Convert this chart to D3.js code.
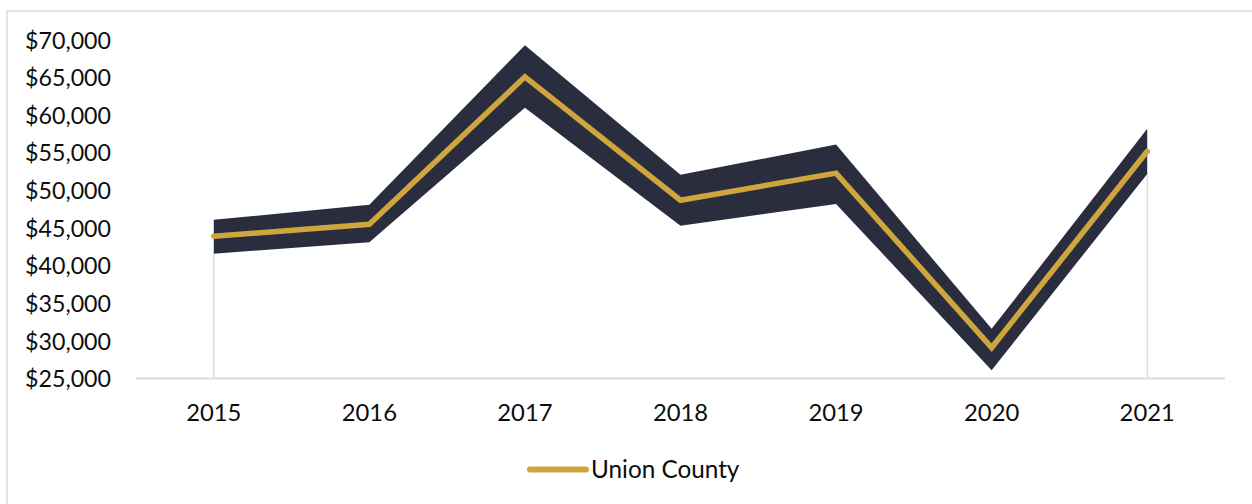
<!DOCTYPE html>
<html>
<head>
<meta charset="utf-8">
<script src="https://cdn.jsdelivr.net/npm/d3@7"></script>
<style>
  html, body { margin: 0; padding: 0; background: #ffffff; }
  svg { display: block; }
  text { font-family: Lato, "Open Sans", sans-serif; fill: #0d0d0d; }
</style>
</head>
<body>
<svg id="chart" width="1252" height="504"></svg>
<script>
// Median household income, Union County, with its range band
const years = ["2015", "2016", "2017", "2018", "2019", "2020", "2021"];
const income = [43900, 45500, 65100, 48700, 52300, 29100, 55200];
const rangeLow = [41600, 43100, 61000, 45300, 48200, 26100, 52200];
const rangeHigh = [46100, 48100, 69300, 52100, 56100, 31600, 58200];
const yTicks = [25000, 30000, 35000, 40000, 45000, 50000, 55000, 60000, 65000, 70000];
const seriesName = "Union County";

const W = 1252, H = 504;
const plot = { left: 136, right: 1225, top: 40, bottom: 378.5 };

const svg = d3.select("#chart");

// outer frame
svg.append("rect")
  .attr("x", 7).attr("y", 11)
  .attr("width", W + 10).attr("height", H + 10)
  .attr("fill", "none")
  .attr("stroke", "#d9dce9")
  .attr("stroke-width", 1.5);

const x = d3.scaleBand().domain(years).range([plot.left, plot.right]);
const cx = d => x(d) + x.bandwidth() / 2;
const y = d3.scaleLinear().domain([25000, 70000]).range([plot.bottom, plot.top]);

const rows = years.map((yr, i) => ({ yr, v: income[i], lo: rangeLow[i], hi: rangeHigh[i] }));

// outline of the hidden lower stack at both ends
const first = rows[0], last = rows[rows.length - 1];
svg.append("g").selectAll("line")
  .data([first, last])
  .join("line")
  .attr("x1", d => cx(d.yr)).attr("x2", d => cx(d.yr))
  .attr("y1", d => y(d.lo)).attr("y2", y(25000))
  .attr("stroke", "#d0d0d4")
  .attr("stroke-width", 1);

// range band
const band = d3.area()
  .x(d => cx(d.yr))
  .y0(d => y(d.lo))
  .y1(d => y(d.hi));
svg.append("path")
  .datum(rows)
  .attr("d", band)
  .attr("fill", "#292d3e");

// x axis line
svg.append("line")
  .attr("x1", plot.left).attr("x2", plot.right)
  .attr("y1", y(25000)).attr("y2", y(25000))
  .attr("stroke", "#d9dce6")
  .attr("stroke-width", 2);

// y axis labels
const yAxis = d3.axisLeft(y)
  .tickValues(yTicks)
  .tickSize(0)
  .tickPadding(0)
  .tickFormat(d => "$" + d3.format(",")(d));
const gy = svg.append("g")
  .attr("transform", `translate(111,0)`)
  .call(yAxis);
gy.select(".domain").remove();
gy.selectAll("text")
  .attr("font-size", 23.2)
  .attr("font-family", "Lato, sans-serif")
  .attr("fill", "#0d0d0d")
  .attr("dy", "0.35em");

// x axis labels
const xAxis = d3.axisBottom(x).tickSize(0).tickPadding(0);
const gx = svg.append("g")
  .attr("transform", `translate(0,${y(25000)})`)
  .call(xAxis);
gx.select(".domain").remove();
gx.selectAll("text")
  .attr("font-size", 23.8)
  .attr("font-family", "Lato, sans-serif")
  .attr("fill", "#0d0d0d")
  .attr("dy", "0")
  .attr("y", 42.5);

// income line
const line = d3.line()
  .x(d => cx(d.yr))
  .y(d => y(d.v));
svg.append("path")
  .datum(rows)
  .attr("d", line)
  .attr("fill", "none")
  .attr("stroke", "#cfa63e")
  .attr("stroke-width", 5.5)
  .attr("stroke-linecap", "round")
  .attr("stroke-linejoin", "miter");

// legend
const lg = svg.append("g").attr("transform", "translate(530,469.5)");
lg.append("line")
  .attr("x1", 0).attr("x2", 56)
  .attr("y1", 0).attr("y2", 0)
  .attr("stroke", "#cfa63e")
  .attr("stroke-width", 6)
  .attr("stroke-linecap", "round");
lg.append("text")
  .attr("x", 61).attr("y", 8)
  .attr("font-size", 24.3)
  .text(seriesName);
</script>
</body>
</html>
